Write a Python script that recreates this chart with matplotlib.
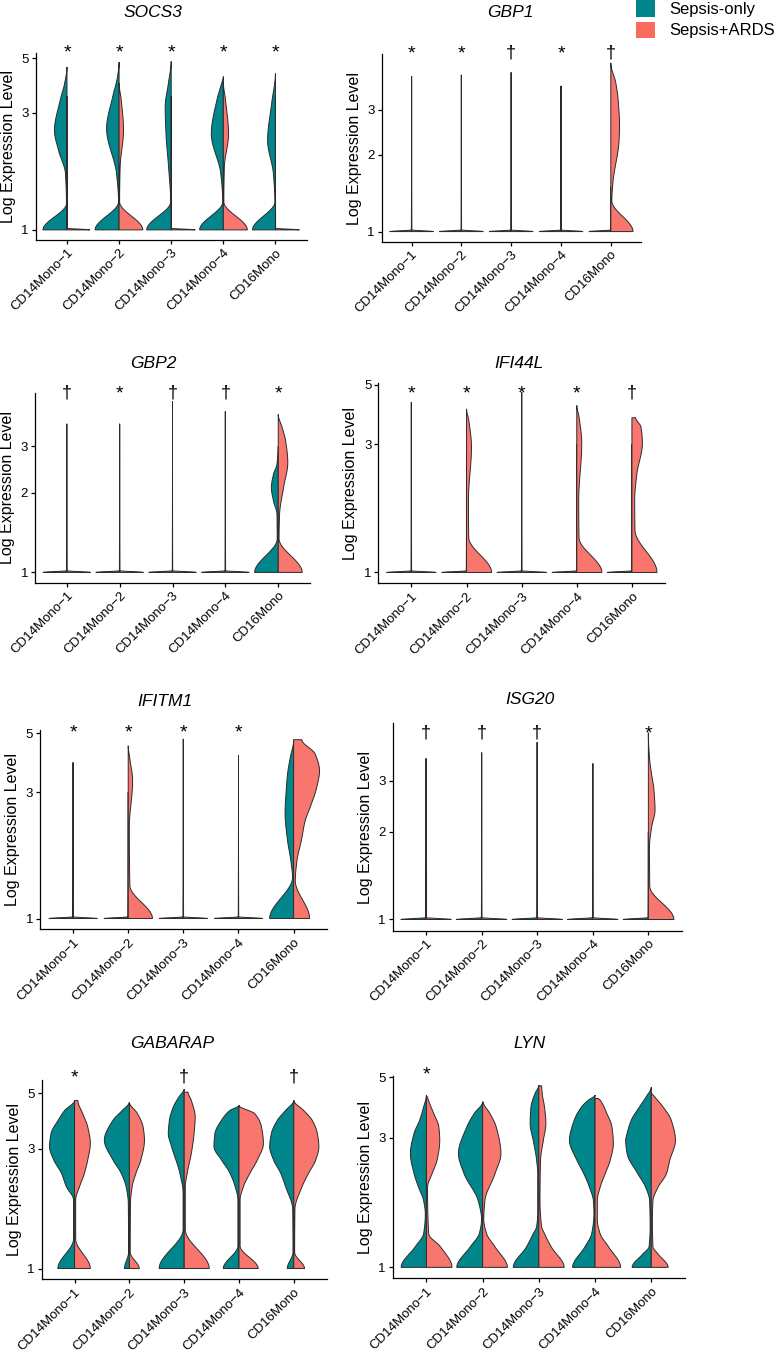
import numpy as np
import matplotlib
matplotlib.use('Agg')
import matplotlib.pyplot as plt
from matplotlib.patches import Patch
from matplotlib.ticker import NullLocator
from matplotlib.transforms import blended_transform_factory, ScaledTranslation

plt.rcParams['font.family'] = ['Liberation Sans', 'DejaVu Sans']

W, H = 775, 1352
TEAL = '#00868B'
SALMON = '#F8766D'
LEGEND_SALMON = '#FA6B5E'

CLUSTERS = ['CD14Mono\u22121', 'CD14Mono\u22122', 'CD14Mono\u22123', 'CD14Mono\u22124', 'CD16Mono']
GROUPS = ['Sepsis-only', 'Sepsis+ARDS']
GENES = ['SOCS3', 'GBP1', 'GBP2', 'IFI44L', 'IFITM1', 'ISG20', 'GABARAP', 'LYN']
YTICKS = [[1, 3, 5], [1, 2, 3], [1, 2, 3], [1, 3, 5], [1, 3, 5], [1, 2, 3], [1, 3, 5], [1, 3, 5]]
MARKS = [
    ['*', '*', '*', '*', '*'],
    ['*', '*', '\u2020', '*', '\u2020'],
    ['\u2020', '*', '\u2020', '\u2020', '*'],
    ['*', '*', '*', '*', '\u2020'],
    ['*', '*', '*', '*', ''],
    ['\u2020', '\u2020', '\u2020', '', '*'],
    ['*', '', '\u2020', '', '\u2020'],
    ['*', '', '', '', ''],
]


def flat(w, top):
    # nearly all cells at the floor: thin sliver plus a hairline up to the max
    return [(1, w), (1.015, 0.004), (top, 0)]


# half-violin profiles: (expression level, half width in category units)
SOCS3_ONLY = [
    [(1, .46), (1.28, .01), (1.7, .03), (2.1, .16), (2.54, .24), (3.37, .13), (3.95, .045), (4.6, 0)],
    [(1, .46), (1.3, .01), (1.7, .05), (2.58, .24), (3.5, .12), (4.2, .03), (4.82, 0)],
    [(1, .47), (1.3, .01), (1.8, .05), (2.47, .1), (3.16, .115), (4.0, .05), (4.85, 0)],
    [(1, .455), (1.3, .01), (1.7, .05), (2.46, .23), (3.4, .12), (3.9, .04), (4.21, 0)],
    [(1, .44), (1.3, .01), (1.7, .04), (2.31, .15), (3.3, .07), (4.33, 0)],
]
SOCS3_ARDS = [
    flat(.44, 3.5),
    [(1, .455), (1.3, .01), (1.8, .02), (2.55, .085), (3.4, .04), (3.95, 0)],
    flat(.46, 3.5),
    [(1, .46), (1.3, .01), (1.8, .02), (2.46, .1), (3.4, .04), (4.0, 0)],
    flat(.46, 3.5),
]

GBP1_ONLY = [flat(.44, 4.06), flat(.44, 4.12), flat(.44, 4.21), flat(.44, 3.73), flat(.44, 1.5)]
GBP1_ARDS = [
    flat(.44, 4.06), flat(.44, 4.12), flat(.44, 4.21), flat(.44, 3.73),
    [(1, .446), (1.32, .02), (1.54, .04), (2.3, .167), (2.6, .175), (3.29, .147), (3.83, .1), (4.59, 0)],
]

GBP2_ONLY = [
    flat(.45, 3.64), flat(.45, 3.64), flat(.45, 4.43), flat(.45, 4.06),
    [(1, .447), (1.34, .02), (1.66, .025), (1.86, .09), (2.09, .13), (2.35, .09), (2.56, .025), (3.0, 0)],
]
GBP2_ARDS = [
    flat(.45, 3.64), flat(.45, 3.64), flat(.45, 4.43), flat(.45, 4.06),
    [(1, .453), (1.34, .015), (1.66, .025), (2.09, .1), (2.6, .18), (3.13, .14), (3.52, .075), (3.95, 0)],
]

IFI44L_ONLY = [flat(.45, 4.31), flat(.45, 3.0), flat(.45, 4.69), flat(.45, 3.0), flat(.45, 3.0)]
IFI44L_ARDS = [
    flat(.45, 4.31),
    [(1, .455), (1.35, .04), (1.86, .035), (2.93, .09), (3.7, .04), (4.07, 0)],
    flat(.45, 4.69),
    [(1, .455), (1.35, .04), (1.86, .035), (3.02, .09), (3.8, .04), (4.19, 0)],
    [(1, .455), (1.44, .055), (1.86, .05), (2.33, .09), (3.02, .19), (3.48, .164), (3.77, .07)],
]

IFITM1_ONLY = [
    flat(.44, 3.88), flat(.44, 3.0), flat(.44, 4.76), flat(.44, 4.12),
    [(1, .435), (1.43, .02), (1.65, .05), (1.97, .11), (2.5, .155), (3.13, .13), (3.51, .11), (4.06, .06), (4.7, 0)],
]
IFITM1_ARDS = [
    flat(.44, 3.88),
    [(1, .44), (1.33, .03), (2.21, .02), (3.31, .08), (4.0, .03), (4.49, 0)],
    flat(.44, 4.76), flat(.44, 4.12),
    [(1, .29), (1.39, .03), (1.65, .06), (1.97, .14), (2.34, .21), (2.63, .30), (3.13, .42), (3.61, .47),
     (4.18, .39), (4.73, .15)],
]

ISG20_ONLY = [flat(.455, 3.57), flat(.455, 3.74), flat(.455, 4.06), flat(.455, 3.43), flat(.455, 2.0)]
ISG20_ARDS = [
    flat(.455, 3.57), flat(.455, 3.74), flat(.455, 4.06), flat(.455, 3.43),
    [(1, .46), (1.3, .025), (1.77, .02), (2.08, .06), (2.37, .12), (2.79, .10), (3.18, .055), (3.6, .02), (4.38, 0)],
]

GABARAP_ONLY = [
    [(1, .305), (1.31, .02), (1.88, .02), (2.12, .15), (2.4, .24), (2.71, .38), (3.06, .457), (3.45, .43),
     (3.9, .3), (4.27, .18), (4.68, 0)],
    [(1, .09), (1.16, .015), (1.82, .02), (2.12, .06), (2.4, .15), (2.71, .3), (3.25, .457), (3.9, .3),
     (4.27, .13), (4.61, 0)],
    [(1, .457), (1.43, .02), (2.0, .02), (2.4, .08), (3.06, .23), (3.45, .29), (3.9, .27), (4.4, .2),
     (4.82, .1), (5.2, 0)],
    [(1, .287), (1.23, .02), (1.88, .02), (2.12, .07), (2.4, .165), (2.71, .32), (3.06, .457), (3.45, .44),
     (3.9, .32), (4.27, .165), (4.47, 0)],
    [(1, .12), (1.16, .015), (1.72, .02), (2.12, .15), (2.4, .24), (2.71, .37), (3.06, .44), (3.45, .41),
     (3.9, .3), (4.27, .15), (4.68, 0)],
]
GABARAP_ARDS = [
    [(1, .287), (1.31, .02), (1.88, .02), (2.12, .09), (2.4, .18), (2.71, .24), (3.15, .287), (3.67, .24),
     (4.14, .15), (4.68, .06)],
    [(1, .18), (1.16, .015), (1.82, .02), (2.12, .05), (2.4, .12), (2.71, .21), (3.25, .275), (3.67, .25),
     (4.14, .15), (4.61, 0)],
    [(1, .457), (1.43, .02), (2.12, .02), (2.4, .055), (2.88, .13), (3.45, .18), (4.02, .2), (4.68, .13),
     (5.05, .07)],
    [(1, .35), (1.23, .02), (1.88, .02), (2.12, .08), (2.4, .2), (2.71, .335), (3.15, .445), (3.67, .41),
     (4.14, .29), (4.47, 0)],
    [(1, .195), (1.16, .015), (1.72, .02), (2.12, .15), (2.4, .27), (2.71, .4), (3.06, .457), (3.45, .43),
     (3.9, .335), (4.27, .18), (4.68, 0)],
]

LYN_ONLY = [
    [(1, .45), (1.19, .2), (1.33, .05), (1.57, .02), (1.76, .05), (1.97, .14), (2.21, .22), (2.62, .285),
     (3.11, .22), (3.48, .12), (3.89, .05), (4.3, 0)],
    [(1, .46), (1.19, .22), (1.33, .06), (1.5, .02), (1.76, .08), (2.21, .33), (2.62, .43), (3.29, .28),
     (3.68, .15), (4.06, 0)],
    [(1, .455), (1.19, .22), (1.33, .1), (1.41, .04), (1.6, .02), (2.2, .02), (2.48, .04), (2.93, .1),
     (3.38, .155), (3.89, .14), (4.35, .07), (4.68, 0)],
    [(1, .40), (1.19, .18), (1.33, .06), (1.57, .02), (1.76, .03), (1.97, .1), (2.21, .2), (2.48, .325),
     (2.93, .455), (3.48, .37), (3.89, .24), (4.12, .12), (4.3, 0)],
    [(1, .34), (1.12, .15), (1.19, .04), (1.4, .02), (1.76, .03), (1.97, .1), (2.21, .24), (2.62, .43),
     (2.93, .455), (3.11, .43), (3.48, .355), (3.89, .21), (4.24, .09), (4.6, 0)],
]
LYN_ARDS = [
    [(1, .455), (1.19, .25), (1.33, .04), (1.97, .02), (2.21, .1), (2.48, .19), (2.93, .237), (3.29, .22),
     (3.68, .13), (4.1, .04), (4.24, .02)],
    [(1, .44), (1.19, .22), (1.33, .07), (1.5, .02), (1.76, .04), (2.21, .22), (2.62, .325), (3.29, .24),
     (3.68, .13), (4.06, .01)],
    [(1, .45), (1.19, .22), (1.33, .1), (1.41, .05), (1.76, .02), (2.48, .03), (2.93, .08), (3.38, .125),
     (3.89, .1), (4.35, .06), (4.65, .05)],
    [(1, .455), (1.19, .24), (1.33, .09), (1.5, .04), (1.76, .04), (1.97, .09), (2.21, .18), (2.48, .27),
     (2.85, .325), (3.29, .3), (3.68, .21), (4.12, .09), (4.18, .06)],
    [(1, .30), (1.12, .12), (1.19, .03), (1.5, .02), (1.76, .03), (1.97, .12), (2.21, .27), (2.48, .33),
     (2.93, .43), (3.48, .355), (3.89, .21), (4.24, .06), (4.4, 0)],
]

ONLY = [SOCS3_ONLY, GBP1_ONLY, GBP2_ONLY, IFI44L_ONLY, IFITM1_ONLY, ISG20_ONLY, GABARAP_ONLY, LYN_ONLY]
ARDS = [SOCS3_ARDS, GBP1_ARDS, GBP2_ARDS, IFI44L_ARDS, IFITM1_ARDS, ISG20_ARDS, GABARAP_ARDS, LYN_ARDS]

# layout, in pixels: axes box (left, top, right, bottom), title centre, marker row
PANEL_PX = [
    (35.7, 53, 306.7, 240), (381.7, 54.5, 640.7, 241.7),
    (35, 392.7, 310, 582.7), (378.3, 383.3, 665, 583.3),
    (40, 730, 326.7, 929.3), (392.7, 723.3, 681.7, 930.7),
    (41.7, 1080, 326.7, 1279.3), (392.7, 1076, 685, 1278.3),
]
TITLE_PX = [(153, 12.5), (510, 12.5), (153, 363.3), (518.8, 363.3),
            (165, 701.7), (530, 700), (172.3, 1043.3), (530, 1043.3)]
MARK_Y_PX = [50, 51, 391, 391, 730, 731, 1075, 1072]


def pchip(xk, yk, xs):
    xk = np.asarray(xk, float)
    yk = np.asarray(yk, float)
    h = np.diff(xk)
    d = np.diff(yk) / h
    m = np.zeros_like(yk)
    for k in range(1, len(xk) - 1):
        if d[k - 1] * d[k] > 0:
            w1 = 2 * h[k] + h[k - 1]
            w2 = h[k] + 2 * h[k - 1]
            m[k] = (w1 + w2) / (w1 / d[k - 1] + w2 / d[k])
    idx = np.clip(np.searchsorted(xk, xs, side='right') - 1, 0, len(h) - 1)
    t = (xs - xk[idx]) / h[idx]
    h00 = 2 * t**3 - 3 * t**2 + 1
    h10 = t**3 - 2 * t**2 + t
    h01 = -2 * t**3 + 3 * t**2
    h11 = t**3 - t**2
    return h00 * yk[idx] + h10 * h[idx] * m[idx] + h01 * yk[idx + 1] + h11 * h[idx] * m[idx + 1]


def half_violin(ax, x, prof, side, color):
    lv = np.log10([p[0] for p in prof])
    w = [p[1] for p in prof]
    seg = [np.linspace(lv[k], lv[k + 1], 40, endpoint=False) for k in range(len(lv) - 1)]
    ly = np.concatenate(seg + [lv[-1:]])
    ww = np.clip(pchip(lv, w, ly), 0, None)
    xs = np.concatenate([[x], x + side * ww, [x]])
    ys = np.concatenate([[1.0], 10**ly, [10**ly[-1]]])
    ax.fill(xs, ys, facecolor=color, edgecolor='#2b2b2b', linewidth=0.7, zorder=2)


fig = plt.figure(figsize=(W / 100, H / 100), dpi=100)

for g, gene in enumerate(GENES):
    x0, y0, x1, y1 = PANEL_PX[g]
    ax = fig.add_axes([x0 / W, 1 - y1 / H, (x1 - x0) / W, (y1 - y0) / H])
    for i in range(len(CLUSTERS)):
        half_violin(ax, i, ONLY[g][i], -1, TEAL)
        half_violin(ax, i, ARDS[g][i], 1, SALMON)

    L = np.log10(max(p[-1][0] for p in ONLY[g] + ARDS[g]))
    ax.set_yscale('log')
    ax.set_ylim(10**(-0.06 * L), 10**(1.05 * L))
    ax.set_xlim(-0.6, len(CLUSTERS) - 0.4)
    ax.yaxis.set_minor_locator(NullLocator())
    ax.set_yticks(YTICKS[g])
    ax.set_yticklabels([str(t) for t in YTICKS[g]])
    ax.set_xticks(range(len(CLUSTERS)))
    ax.set_xticklabels(CLUSTERS, rotation=45, ha='right', va='top', rotation_mode='anchor')
    for lab in ax.get_xticklabels():
        lab.set_transform(lab.get_transform() + ScaledTranslation(0.05, 0, fig.dpi_scale_trans))

    for s in ('top', 'right'):
        ax.spines[s].set_visible(False)
    for s in ('left', 'bottom'):
        ax.spines[s].set_linewidth(0.9)
    ax.tick_params(length=3, width=0.9, labelsize=9.5, colors='black', pad=2)
    ax.set_ylabel('Log Expression Level', fontsize=11.5, labelpad=4)

    tx, ty = TITLE_PX[g]
    fig.text(tx / W, 1 - ty / H, gene, style='italic', fontsize=12.5, ha='center', va='center')

    tr = blended_transform_factory(ax.transData, fig.transFigure)
    for i, mark in enumerate(MARKS[g]):
        if mark == '*':
            ax.text(i, 1 - (MARK_Y_PX[g] + 3) / H, mark, transform=tr, ha='center', va='center',
                    fontsize=14, clip_on=False, zorder=5)
        elif mark:
            ax.text(i, 1 - (MARK_Y_PX[g] + 2) / H, mark, transform=tr, ha='center', va='center',
                    fontsize=13, clip_on=False, zorder=5)

handles = [Patch(facecolor=TEAL, edgecolor='none'), Patch(facecolor=LEGEND_SALMON, edgecolor='none')]
fig.legend(handles, GROUPS, loc='upper left', bbox_to_anchor=(636 / W, 1.0), frameon=False,
           fontsize=12, handlelength=1.15, handleheight=1.15, handletextpad=0.85,
           labelspacing=0.28, borderpad=0, borderaxespad=0)

fig.savefig('out.png', dpi=100)
